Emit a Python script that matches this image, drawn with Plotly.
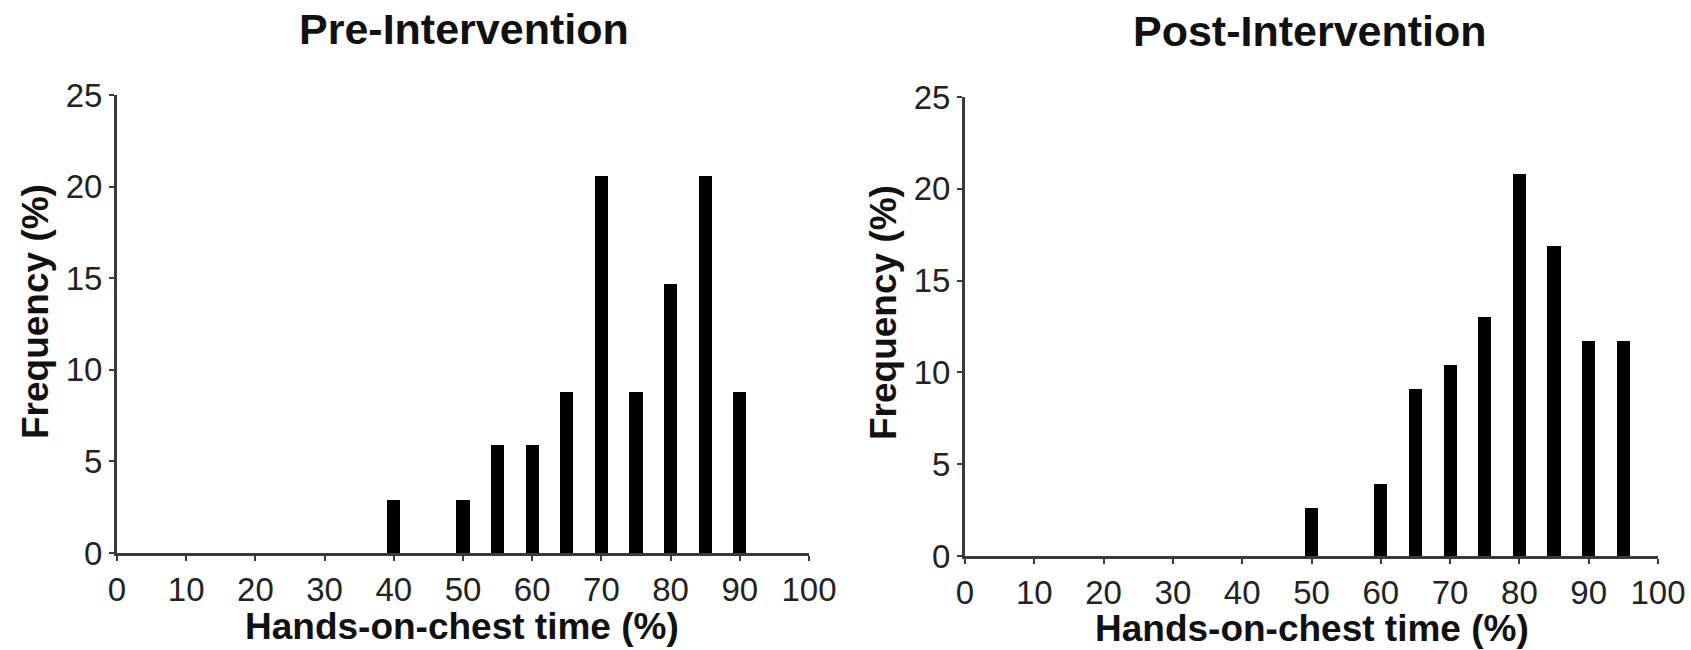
import plotly.graph_objects as go

# Hands-on-chest time bins (%) and frequency (%) per bin
pre_bins = [40, 50, 55, 60, 65, 70, 75, 80, 85, 90]
pre_freq = [2.9, 2.9, 5.9, 5.9, 8.8, 20.6, 8.8, 14.7, 20.6, 8.8]

post_bins = [50, 60, 65, 70, 75, 80, 85, 90, 95]
post_freq = [2.6, 3.9, 9.1, 10.4, 13.0, 20.8, 16.9, 11.7, 11.7]

panel_titles = ["Pre-Intervention", "Post-Intervention"]
x_title = "Hands-on-chest time (%)"
y_title = "Frequency (%)"
x_ticks = [0, 10, 20, 30, 40, 50, 60, 70, 80, 90, 100]
y_ticks = [0, 5, 10, 15, 20, 25]

W, H = 1691, 650
FONT = "Liberation Sans, Arial, sans-serif"
INK = "#111111"
AXIS = "#3a3a3a"

fig = go.Figure()
fig.add_trace(go.Bar(x=pre_bins, y=pre_freq, width=1.9, marker=dict(color="black", line=dict(width=0)),
                     xaxis="x", yaxis="y", showlegend=False))
fig.add_trace(go.Bar(x=post_bins, y=post_freq, width=1.9, marker=dict(color="black", line=dict(width=0)),
                     xaxis="x2", yaxis="y2", showlegend=False))

def px_x(p):
    return p / W

def px_y(p):
    return (H - p) / H

common_x = dict(range=[0, 100], tickvals=x_ticks, ticktext=[str(v) for v in x_ticks],
                showgrid=False, zeroline=False, showline=True, linecolor=AXIS, linewidth=3,
                ticks="outside", ticklen=5, tickwidth=2, tickcolor=AXIS, automargin=False,
                tickfont=dict(family=FONT, size=33, color="#222222"), fixedrange=True)
common_y = dict(range=[0, 25], tickvals=y_ticks, ticktext=[str(v) for v in y_ticks],
                showgrid=False, zeroline=False, showline=True, linecolor=AXIS, linewidth=3,
                ticks="outside", ticklen=5, tickwidth=2, tickcolor=AXIS, automargin=False,
                tickfont=dict(family=FONT, size=33, color="#222222"), fixedrange=True)

fig.update_layout(
    width=W, height=H,
    margin=dict(l=0, r=0, t=0, b=0, pad=0, autoexpand=False),
    paper_bgcolor="white", plot_bgcolor="white",
    bargap=0,
    xaxis=dict(domain=[px_x(117), px_x(809)], anchor="y", **common_x),
    yaxis=dict(domain=[px_y(553), px_y(95)], anchor="x", **common_y),
    xaxis2=dict(domain=[px_x(965), px_x(1658)], anchor="y2", **common_x),
    yaxis2=dict(domain=[px_y(556), px_y(97)], anchor="x2", **common_y),
)

annotations = [
    dict(text=f"<b>{panel_titles[0]}</b>", x=px_x(464), y=px_y(29), font=dict(size=43)),
    dict(text=f"<b>{panel_titles[1]}</b>", x=px_x(1310), y=px_y(31), font=dict(size=43)),
    dict(text=f"<b>{x_title}</b>", x=px_x(462), y=px_y(626), font=dict(size=37)),
    dict(text=f"<b>{x_title}</b>", x=px_x(1312), y=px_y(628), font=dict(size=37)),
    dict(text=f"<b>{y_title}</b>", x=px_x(35), y=px_y(312), font=dict(size=37), textangle=-90),
    dict(text=f"<b>{y_title}</b>", x=px_x(883), y=px_y(313), font=dict(size=37), textangle=-90),
]
for a in annotations:
    a["font"].update(family=FONT, color=INK)
    fig.add_annotation(xref="paper", yref="paper", xanchor="center", yanchor="middle",
                       showarrow=False, **a)

fig.write_html("out.html")
